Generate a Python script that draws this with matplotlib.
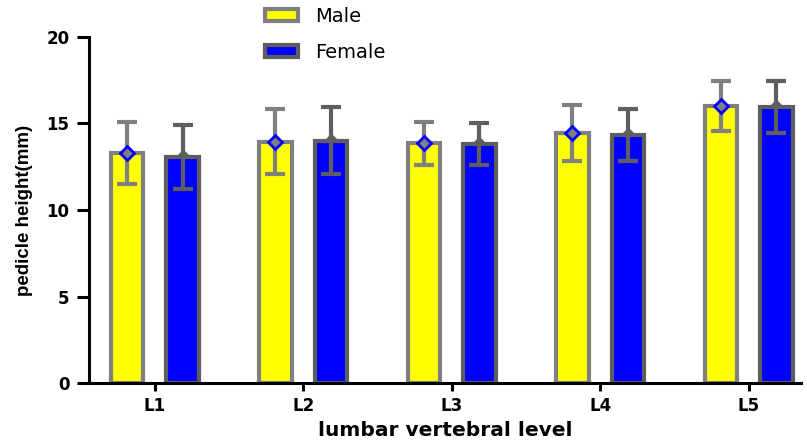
import numpy as np
from matplotlib import pyplot as plt
from matplotlib.patches import Patch

# pedicle height by lumbar level, mean and SD
levels = ['L1', 'L2', 'L3', 'L4', 'L5']
male_mean = [13.3, 13.95, 13.85, 14.45, 16.0]
male_sd = [1.8, 1.9, 1.25, 1.6, 1.42]
female_mean = [13.05, 14.0, 13.8, 14.3, 15.95]
female_sd = [1.85, 1.92, 1.2, 1.5, 1.5]
yticks = [0, 5, 10, 15, 20]

male_edge = '#808080'
female_edge = '#5e5e5e'

fig = plt.figure(figsize=(8.07, 4.43), dpi=100)
ax = fig.add_axes([89 / 807, 1 - 383.3 / 443, 712 / 807, 346.6 / 443])

x = np.arange(1, len(levels) + 1)
w = 0.22
off = 0.187

ax.bar(x - off, male_mean, w, color='#ffff00', edgecolor=male_edge,
       linewidth=3, zorder=2)
ax.bar(x + off, female_mean, w, color='#0000ff', edgecolor=female_edge,
       linewidth=3, zorder=2)

ax.errorbar(x - off, male_mean, yerr=male_sd, fmt='none', ecolor=male_edge,
            elinewidth=3, capsize=7, capthick=3, zorder=3)
ax.errorbar(x + off, female_mean, yerr=female_sd, fmt='none', ecolor=female_edge,
            elinewidth=3, capsize=7, capthick=3, zorder=3)

# mean markers
ax.plot(x - off, male_mean, 'D', ms=7, mfc=male_edge, mec='#0000ff', mew=2,
        linestyle='none', zorder=4)
ax.plot(x + off, female_mean, 'D', ms=7, mfc=female_edge, mec=female_edge,
        linestyle='none', zorder=1.5)

ax.set_xlim(0.557, 5.353)
ax.set_ylim(0, 20)
ax.set_xticks(x)
ax.set_xticklabels(levels)
ax.set_yticks(yticks)

for s in ['top', 'right']:
    ax.spines[s].set_visible(False)
for s in ['left', 'bottom']:
    ax.spines[s].set_linewidth(2.2)

ax.tick_params(axis='y', length=9, width=2.2, pad=5)
ax.tick_params(axis='x', length=6, width=2.2, pad=4)
for lab in ax.get_xticklabels() + ax.get_yticklabels():
    lab.set_fontfamily('DejaVu Sans')
    lab.set_fontweight('bold')
    lab.set_fontsize(12)

ax.set_xlabel('lumbar vertebral level', fontfamily='DejaVu Sans',
              fontweight='bold', fontsize=14.5, labelpad=4)
ax.set_ylabel('pedicle height(mm)', fontfamily='Liberation Sans',
              fontweight='bold', fontsize=13.5, labelpad=10)

handles = [Patch(facecolor='#ffff00', edgecolor=male_edge, linewidth=3),
           Patch(facecolor='#0000ff', edgecolor=female_edge, linewidth=3)]
fig.legend(handles, ['Male', 'Female'], loc='upper left',
           bbox_to_anchor=(265 / 807, 1 - 7 / 443), frameon=False,
           prop={'family': 'DejaVu Sans', 'size': 14},
           handlelength=1.7, handleheight=0.55, handletextpad=0.9,
           labelspacing=0.85, borderpad=0, borderaxespad=0)

plt.savefig('out.png', dpi=100)
